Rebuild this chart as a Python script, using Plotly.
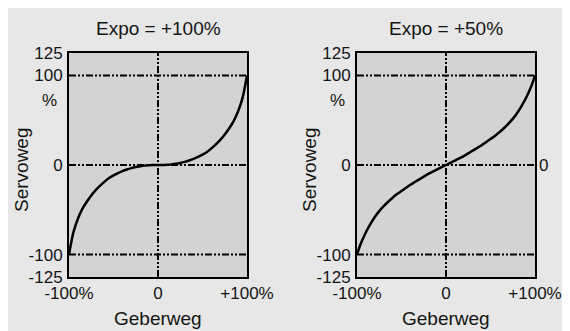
import plotly.graph_objects as go

# ---- data ----
geber = [-100, -97, -95, -90, -85, -80, -75, -70, -65, -60, -55, -50, -45, -40, -35, -30,
         -25, -20, -15, -10, -5, 0, 5, 10, 15, 20, 25, 30, 35, 40, 45, 50, 55, 60,
         65, 70, 75, 80, 85, 90, 95, 97, 100]
servo_expo100 = [-100, -84, -75, -60, -49, -41, -34, -28, -23, -18.5, -14.5, -11.5, -9,
                 -6.8, -5, -3.5, -2.3, -1.4, -0.7, -0.3, -0.05, 0, 0.05, 0.3, 0.7, 1.4,
                 2.3, 3.5, 5, 6.8, 9, 11.5, 14.5, 18.5, 23, 28, 34, 41, 49, 60, 75, 84, 100]
servo_expo50 = [-100, -91, -86, -75, -66, -58, -51.5, -46, -41, -36.5, -32.5, -29, -25.5,
                -22, -19, -16, -13, -10, -7.5, -5, -2.5, 0, 2.5, 5, 7.5, 10, 13, 16, 19,
                22, 25.5, 29, 32.5, 36.5, 41, 46, 51.5, 58, 66, 75, 86, 91, 100]
titles = ["Expo = +100%", "Expo = +50%"]
ytick_vals = [-125, -100, 0, 100, 125]
ytick_text = ["-125", "-100", "0", "100", "125"]
xtick_vals = [-100, 0, 100]
xtick_text = ["-100%", "0", "+100%"]
ref_lines = [-100, 0, 100]

W, H = 570, 331
FONT = "Liberation Sans, Arial, Helvetica, sans-serif"
DASH = "7px,2px,2px,2px,2px,2px"
TXT = "#141414"

panels = [
    dict(x0=61, x1=239, series=servo_expo100, title=titles[0]),
    dict(x0=349, x1=527, series=servo_expo50, title=titles[1]),
]
top_px, bot_px = 45, 269


def label(text, x_px, y_px, size, **kw):
    return dict(text=text, x=x_px / W, y=1 - y_px / H, xref="paper", yref="paper",
                xanchor="center", yanchor="middle", showarrow=False,
                font=dict(family=FONT, size=size, color=TXT), **kw)


fig = go.Figure()
annotations = []
shapes = []
for i, p in enumerate(panels):
    ax = "" if i == 0 else str(i + 1)
    xa, ya = "x" + ax, "y" + ax
    fig.add_trace(go.Scatter(x=geber, y=p["series"], mode="lines",
                             line=dict(color="black", width=2.5, shape="spline", smoothing=0.8),
                             xaxis=xa, yaxis=ya, showlegend=False, hoverinfo="skip"))
    axis_common = dict(showgrid=False, zeroline=False, showline=True, mirror=True,
                       linecolor="black", linewidth=2, ticks="", automargin=False,
                       tickfont=dict(family=FONT, size=17, color=TXT))
    fig.update_layout(**{
        "xaxis" + ax: dict(axis_common, domain=[p["x0"] / W, p["x1"] / W], range=[-100, 100],
                           tickvals=xtick_vals, ticktext=xtick_text, anchor=ya,
                           ticklabelstandoff=0),
        "yaxis" + ax: dict(axis_common, domain=[(H - bot_px) / H, (H - top_px) / H],
                           range=[-125, 125], tickvals=ytick_vals, ticktext=ytick_text,
                           anchor=xa, ticklabelstandoff=1),
    })
    # reference dash-dot lines
    for v in ref_lines:
        shapes.append(dict(type="line", xref=xa + " domain", yref=ya, x0=0, x1=1, y0=v, y1=v,
                           line=dict(color="black", width=2, dash=DASH), layer="above"))
    shapes.append(dict(type="line", xref=xa, yref=ya + " domain", x0=0, x1=0, y0=0, y1=1,
                       line=dict(color="black", width=2, dash=DASH), layer="above"))
    cx = (p["x0"] + p["x1"]) / 2
    annotations.append(label(p["title"], cx, 20, 19))
    annotations.append(label("Geberweg", cx, 310, 19))
    annotations.append(label("Servoweg", p["x0"] - 47, 162, 19, textangle=-90))
    annotations.append(label("%", p["x0"] - 20, 92, 17))

annotations.append(dict(text="0", x=529 / W, y=0, xref="paper", yref="y2", showarrow=False,
                        xanchor="left", yanchor="middle",
                        font=dict(family=FONT, size=17, color=TXT)))

fig.update_layout(width=W, height=H, margin=dict(l=0, r=0, t=0, b=0),
                  paper_bgcolor="#e6e7e6", plot_bgcolor="#d3d3d3",
                  shapes=shapes, annotations=annotations)
fig.write_html("out.html")
